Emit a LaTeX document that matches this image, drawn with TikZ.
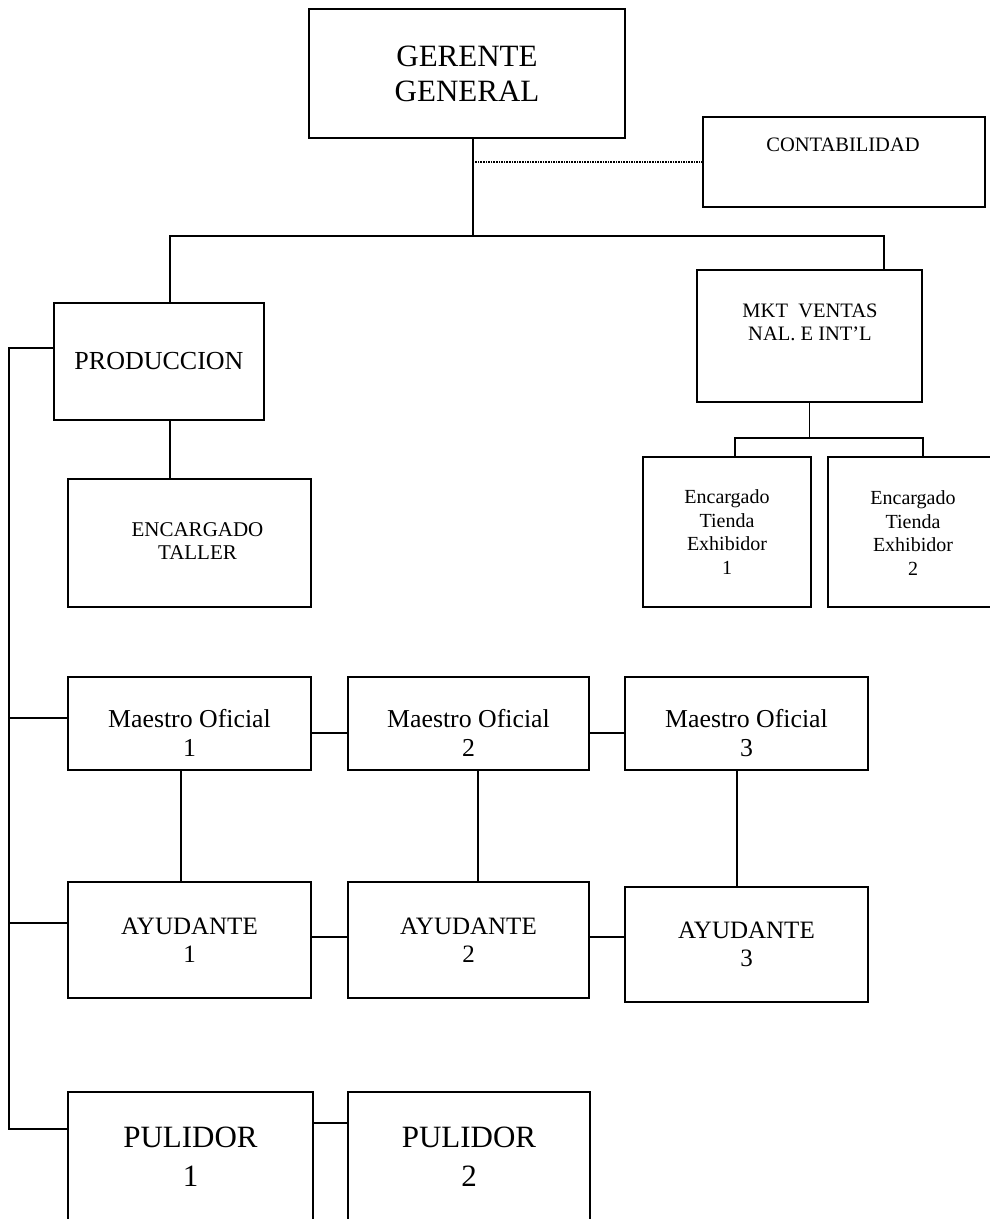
\documentclass[tikz,border=0pt]{standalone}
\usepackage{fontspec}
\setmainfont{Liberation Serif}

\begin{document}
\begin{tikzpicture}[x=1pt,y=-1pt,
        caja/.style={draw,line width=1.6pt,inner sep=0pt,outer sep=0pt,align=center},
        rotulo/.style={inner sep=0pt,align=center},
        linea/.style={line width=1.3pt},
        punteado/.style={line width=1.6pt,densely dotted}]
                \useasboundingbox (0,0) rectangle (990,1219);
                \clip (0,0) rectangle (990,1219);
                % cajas de arriba
                \node[caja,minimum width=316pt,minimum height=129pt,font=\fontsize{31}{35}\selectfont] (gerente) at (467,73.5) {GERENTE\\GENERAL};
                \node[caja,minimum width=282pt,minimum height=90pt] (conta) at (844,162) {};
                \node[rotulo,font=\fontsize{20.5}{24}\selectfont] (contat) at (843,145) {CONTABILIDAD};
                \node[caja,minimum width=210pt,minimum height=117pt,font=\fontsize{26}{30}\selectfont] (prod) at (159,361.5) {PRODUCCION};
                \node[caja,minimum width=225pt,minimum height=132pt] (mkt) at (809.5,336) {};
                \node[rotulo,font=\fontsize{20.5}{23}\selectfont] (mktt) at (810,322) {MKT\ \ VENTAS\\NAL. E INT’L};
                \node[caja,minimum width=243pt,minimum height=128pt] (taller) at (189.5,543) {};
                \node[rotulo,font=\fontsize{21}{22.5}\selectfont] (tallert) at (197.5,541) {ENCARGADO\\TALLER};
                \node[caja,minimum width=168pt,minimum height=150pt,font=\fontsize{20}{23.5}\selectfont] (enc1) at (727,532) {Encargado\\Tienda\\Exhibidor\\1};
                \node[caja,minimum width=190pt,minimum height=150pt] (enc2) at (923,532) {};
                \node[rotulo,font=\fontsize{20}{23.5}\selectfont] (enc2t) at (913,533) {Encargado\\Tienda\\Exhibidor\\2};
                % maestros
                \node[caja,minimum width=243pt,minimum height=93pt] (m1) at (189.5,723.5) {};
                \node[caja,minimum width=241pt,minimum height=93pt] (m2) at (468.5,723.5) {};
                \node[caja,minimum width=243pt,minimum height=93pt] (m3) at (746.5,723.5) {};
                \node[rotulo,font=\fontsize{25.8}{29.5}\selectfont] (m1t) at (189.5,733) {Maestro Oficial\\1};
                \node[rotulo,font=\fontsize{25.8}{29.5}\selectfont] (m2t) at (468.5,733) {Maestro Oficial\\2};
                \node[rotulo,font=\fontsize{25.8}{29.5}\selectfont] (m3t) at (746.5,733) {Maestro Oficial\\3};
                % ayudantes
                \node[caja,minimum width=243pt,minimum height=116pt,font=\fontsize{25}{28}\selectfont] (a1) at (189.5,940) {AYUDANTE\\1};
                \node[caja,minimum width=241pt,minimum height=116pt,font=\fontsize{25}{28}\selectfont] (a2) at (468.5,940) {AYUDANTE\\2};
                \node[caja,minimum width=243pt,minimum height=115pt,font=\fontsize{25}{28}\selectfont] (a3) at (746.5,944.5) {AYUDANTE\\3};
                % pulidores
                \node[caja,minimum width=245pt,minimum height=130pt,font=\fontsize{31}{39}\selectfont] (p1) at (190.5,1157) {PULIDOR\\1};
                \node[caja,minimum width=242pt,minimum height=130pt,font=\fontsize{31}{39}\selectfont] (p2) at (469,1157) {PULIDOR\\2};
                % puntos de las lineas
                \coordinate (gg) at (473,236);
                \coordinate (busL) at (170,236);
                \coordinate (busR) at (884,236);
                \coordinate (tL) at (735,438);
                \coordinate (tR) at (923,438);
                \coordinate (s0) at (9,348);
                \coordinate (s1) at (9,718);
                \coordinate (s2) at (9,923);
                \coordinate (s3) at (9,1129);
                \coordinate (h1) at (0,733);
                \coordinate (h2) at (0,937);
                \coordinate (h3) at (0,1123);
                \coordinate (v1) at (181,0);
                \coordinate (v2) at (478,0);
                \coordinate (v3) at (737,0);
                % lineas
                \draw[linea] (gerente.south -| gg) -- (gg);
                \draw[punteado] (conta.west) -- (conta.west -| gg);
                \draw[linea] (prod.north -| busL) -- (busL) -- (busR) -- (mkt.north -| busR);
                \draw[linea] (prod.south -| busL) -- (taller.north -| busL);
                \draw[linea] (mkt.south) -- (mkt.south |- tL);
                \draw[linea] (enc1.north -| tL) -- (tL) -- (tR) -- (enc2.north);
                \draw[linea] (s0 -| prod.west) -- (s0) -- (s3) -- (s3 -| p1.west);
                \draw[linea] (s1) -- (s1 -| m1.west);
                \draw[linea] (s2) -- (s2 -| a1.west);
                \draw[linea] (m1.east |- h1) -- (m2.west |- h1);
                \draw[linea] (m2.east |- h1) -- (m3.west |- h1);
                \draw[linea] (a1.east |- h2) -- (a2.west |- h2);
                \draw[linea] (a2.east |- h2) -- (a3.west |- h2);
                \draw[linea] (p1.east |- h3) -- (p2.west |- h3);
                \draw[linea] (m1.south -| v1) -- (a1.north -| v1);
                \draw[linea] (m2.south -| v2) -- (a2.north -| v2);
                \draw[linea] (m3.south -| v3) -- (a3.north -| v3);
            \end{tikzpicture}
\end{document}
